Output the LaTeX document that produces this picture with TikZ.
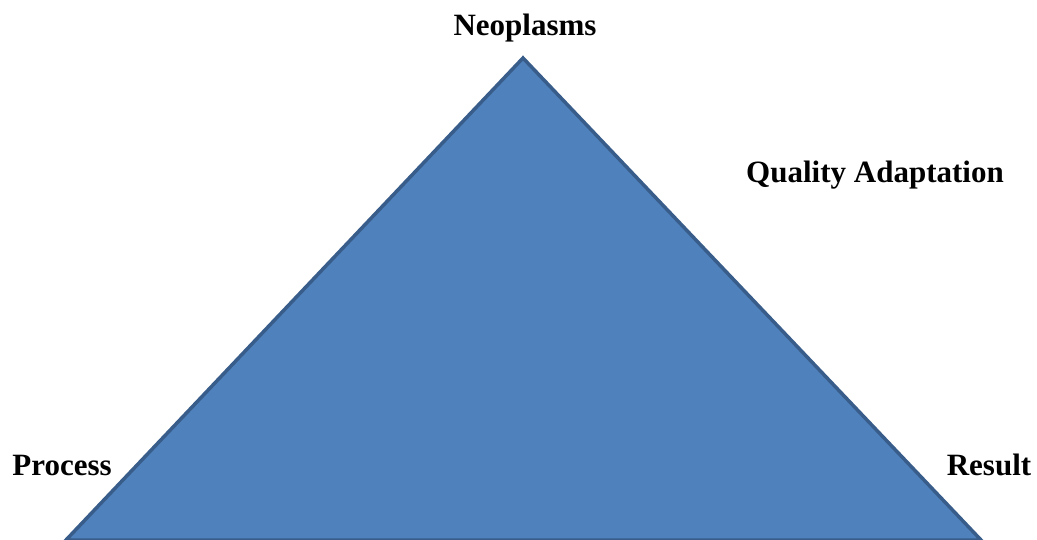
\documentclass[tikz,border=0pt]{standalone}
\usepackage{fontspec}
\setmainfont{Liberation Serif}
\definecolor{trifill}{HTML}{4F81BD}
\definecolor{triline}{HTML}{385D8A}
\begin{document}
\begin{tikzpicture}[x=1pt,y=-1pt,
  lbl/.style={font=\fontsize{31}{36}\selectfont\bfseries, inner sep=0pt, anchor=base},
  tri/.style={fill=trifill, draw=triline, line width=3.5pt, line join=miter}]
\useasboundingbox (0,0) rectangle (1037,540);
\clip (0,0) rectangle (1037,540);
\coordinate (apex) at (523,58);
\coordinate (bl) at (66,540);
\coordinate (br) at (981,540);
\draw[tri] (apex) -- (br) -- (bl) -- cycle;
\node[lbl] (neo) at (525,36) {Neoplasms};
\node[lbl] (qa) at (875,183) {Quality Adaptation};
\node[lbl] (proc) at (62,475) {Process};
\node[lbl] (res) at (989,475) {Result};
\end{tikzpicture}
\end{document}
